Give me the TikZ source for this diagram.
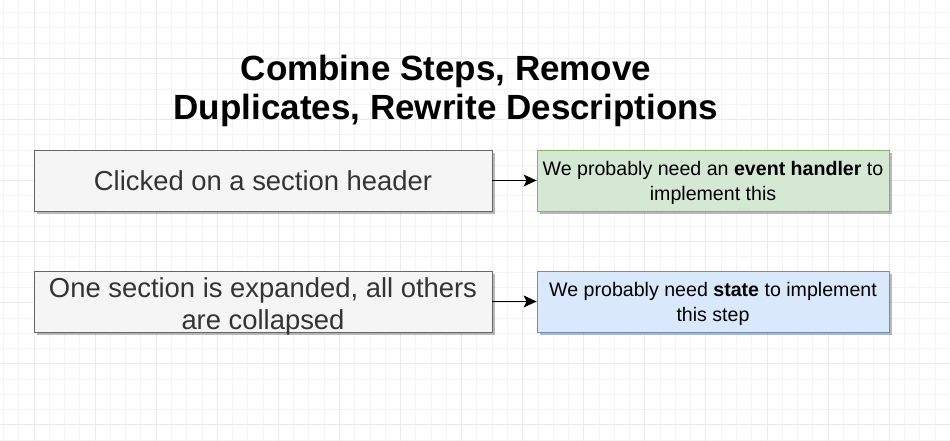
\documentclass[tikz,border=0pt]{standalone}
\usepackage{fontspec}
\setmainfont{Liberation Sans}
\usetikzlibrary{shadows,arrows.meta}
\definecolor{boxgray}{HTML}{F5F5F5}
\definecolor{linegray}{HTML}{666666}
\definecolor{textgray}{HTML}{333333}
\definecolor{greenfill}{HTML}{D5E8D4}
\definecolor{greenline}{HTML}{82B366}
\definecolor{bluefill}{HTML}{DAE8FC}
\definecolor{blueline}{HTML}{6C8EBF}
\definecolor{gridminor}{HTML}{F4F4F4}
\definecolor{gridmajor}{HTML}{EAEAEA}
\def\firstline#1{\rule{0pt}{26.3pt}\smash{#1}}
\def\lastline#1{\rule[-3pt]{0pt}{0pt}\smash{#1}}
\def\smallline{\rule[-4pt]{0pt}{23pt}}
\tikzset{
  stepbox/.style={draw, line width=0.9pt, minimum width=458pt, minimum height=61pt, inner sep=0pt, align=center, drop shadow={shadow xshift=3pt, shadow yshift=-3pt, fill=black!50, opacity=0.55}},
  graybox/.style={stepbox, fill=boxgray, draw=linegray, text=textgray, font=\fontsize{27.4}{31.7}\selectfont},
  notebox/.style={stepbox, minimum width=352pt, font=\fontsize{19.6}{23}\selectfont},
  greenbox/.style={notebox, fill=greenfill, draw=greenline},
  bluebox/.style={notebox, fill=bluefill, draw=blueline},
  link/.style={-{Stealth[length=13pt,width=12pt,inset=3pt]}, line width=1.2pt}
}
\begin{document}
\begin{tikzpicture}[x=1pt, y=-1pt]
			%%%%% START %%%%%
			
			\useasboundingbox[fill=white] (0, 0) rectangle (950, 441);
			
			\foreach \k in {-2,...,60}
				\draw[gridminor, line width=0.8pt] ({34+\k*15.27}, 0) -- ({34+\k*15.27}, 441);
			\foreach \k in {-9,...,19}
				\draw[gridminor, line width=0.8pt] (0, {150+\k*15.27}) -- (950, {150+\k*15.27});
			\foreach \k in {0,...,15}
				\draw[gridmajor, line width=0.8pt] ({34+4*\k*15.27}, 0) -- ({34+4*\k*15.27}, 441);
			\foreach \k in {-2,...,4}
				\draw[gridmajor, line width=0.8pt] (0, {180.5+4*\k*15.27}) -- (950, {180.5+4*\k*15.27});
			
			\node[font=\fontsize{35}{39}\selectfont\bfseries, align=center] (title) at (446, 91) {Combine Steps, Remove\\Duplicates, Rewrite Descriptions};
			
			\node[graybox] (clicked) at (263, 180.5) {Clicked on a section header};
			\node[greenbox] (handler) at (713, 180.5) {\smallline We probably need an \textbf{event handler} to\\\smallline implement this};
			
			\node[graybox] (expanded) at (263, 301.5) {\firstline{One section is expanded, all others}\\\lastline{are collapsed}};
			\node[bluebox] (state) at (713, 301.5) {\smallline We probably need \textbf{state} to implement\\\smallline this step};
			
			\draw[link] (clicked) -- (handler);
			\draw[link] (expanded) -- (state);
			
			%%%%% END %%%%%
\end{tikzpicture}
\end{document}
